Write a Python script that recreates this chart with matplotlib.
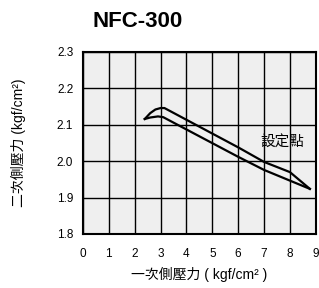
import matplotlib
matplotlib.use("Agg")
import matplotlib.pyplot as plt

plt.rcParams['font.family'] = ['Liberation Sans', 'Noto Sans CJK TC', 'DejaVu Sans']

# rising branch (upper) and falling branch (lower) of the loop
upper_x = [2.39, 2.6, 2.8, 3.0, 3.15, 6.0, 7.0, 8.0, 8.77]
upper_y = [2.116, 2.132, 2.142, 2.146, 2.146, 2.038, 1.998, 1.970, 1.924]
lower_x = [2.39, 2.6, 2.9, 3.1, 6.0, 7.0, 8.77]
lower_y = [2.116, 2.120, 2.123, 2.121, 2.012, 1.976, 1.924]

xticks = list(range(0, 10))
yticks = [1.8, 1.9, 2.0, 2.1, 2.2, 2.3]

fig = plt.figure(figsize=(3.19, 2.88), dpi=100)
ax = fig.add_axes([0.26, 0.1875, 0.73, 0.632])
ax.set_facecolor('#efefef')

ax.plot(upper_x, upper_y, color='black', lw=1.6)
ax.plot(lower_x, lower_y, color='black', lw=1.6)

ax.set_xlim(0, 9)
ax.set_ylim(1.8, 2.3)
ax.set_xticks(xticks)
ax.set_yticks(yticks)
ax.set_yticklabels([f'{v:.1f}' for v in yticks])
ax.grid(True, color='black', lw=1.0)
ax.set_axisbelow(True)
for s in ax.spines.values():
    s.set_linewidth(1.5)
ax.tick_params(axis='y', length=0, labelsize=8.5, pad=7)
ax.tick_params(axis='x', length=0, labelsize=8.5, pad=10)

ax.text(7.72, 2.05, '設定點', fontsize=10.5, ha='center', va='center',
        family=['Noto Sans CJK TC'])

fig.text(0.43, 0.925, 'NFC-300', fontsize=16, fontweight='bold', ha='center', va='center')
ax.set_xlabel('一次側壓力 ( kgf/cm² )', fontsize=10, labelpad=5)
ax.set_ylabel('二次側壓力 (kgf/cm²)', fontsize=10, labelpad=22)

fig.savefig('out.png', dpi=100)
